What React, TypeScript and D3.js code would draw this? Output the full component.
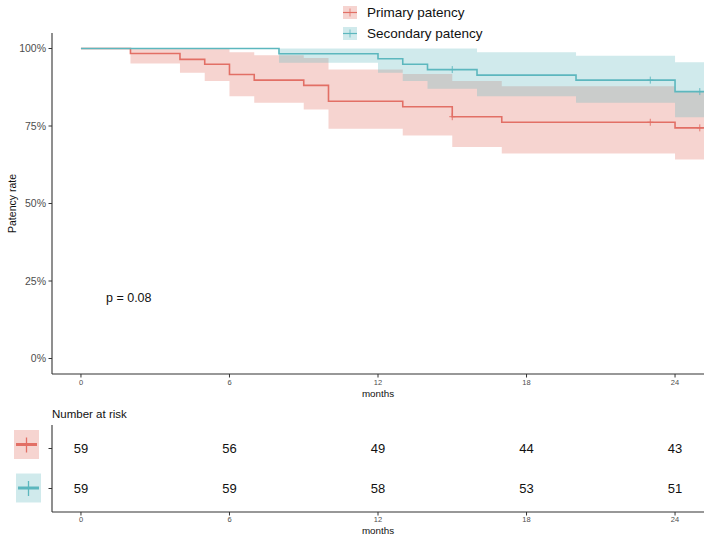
import React from 'react';
import * as d3 from 'd3';

// ---------- data ----------
const strataNames = ['Primary patency', 'Secondary patency'];
const strataColors = ['#E26F65', '#5CB7BE'];
const strataFill = ['#E26F65', '#62B9C0'];

const primaryTimes = [0, 2, 4, 5, 6, 7, 9, 10, 13, 15, 17, 24];
const primarySurv = [1, 0.984, 0.965, 0.949, 0.916, 0.898, 0.881, 0.83, 0.812, 0.78, 0.762, 0.744];
const primaryLower = [1, 0.952, 0.922, 0.895, 0.846, 0.825, 0.803, 0.741, 0.719, 0.682, 0.661, 0.642];
const primaryUpper = [1, 1, 1, 1, 0.988, 0.978, 0.969, 0.932, 0.918, 0.895, 0.878, 0.861];
const primaryCensor = [15, 23, 25];

const secondaryTimes = [0, 8, 12, 13, 14, 16, 20, 24];
const secondarySurv = [1, 0.983, 0.967, 0.949, 0.932, 0.914, 0.898, 0.861];
const secondaryLower = [1, 0.954, 0.922, 0.895, 0.87, 0.846, 0.825, 0.778];
const secondaryUpper = [1, 1, 1, 1, 1, 0.988, 0.977, 0.956];
const secondaryCensor = [15, 23, 25];

const followUpEnd = 25.17;

const riskTimes = [0, 6, 12, 18, 24];
const primaryRisk = [59, 56, 49, 44, 43];
const secondaryRisk = [59, 59, 58, 53, 51];

const xTicks = [0, 6, 12, 18, 24];
const yTicks = [0, 0.25, 0.5, 0.75, 1];
const yTickLabels = ['0%', '25%', '50%', '75%', '100%'];
const pValueText = 'p = 0.08';

// ---------- layout ----------
const W = 709;
const H = 538;
const F = "'Liberation Sans', Arial, Helvetica, sans-serif";
const axisCol = '#333333';
const tickTextCol = '#4D4D4D';

type Curve = {
  times: number[];
  surv: number[];
  lower: number[];
  upper: number[];
  censor: number[];
};

const curves: Curve[] = [
  { times: primaryTimes, surv: primarySurv, lower: primaryLower, upper: primaryUpper, censor: primaryCensor },
  { times: secondaryTimes, surv: secondarySurv, lower: secondaryLower, upper: secondaryUpper, censor: secondaryCensor },
];

function withEnd(c: Curve) {
  const pts = c.times.map((t, i) => ({ t, s: c.surv[i], lo: c.lower[i], hi: c.upper[i] }));
  const last = pts[pts.length - 1];
  pts.push({ t: followUpEnd, s: last.s, lo: last.lo, hi: last.hi });
  return pts;
}

function survAt(c: Curve, t: number) {
  let v = 1;
  c.times.forEach((tt, i) => {
    if (tt <= t) v = c.surv[i];
  });
  return v;
}

export default function App() {
  const x = d3.scaleLinear().domain([-1.17, 25.17]).range([52, 704]);
  const y = d3.scaleLinear().domain([-0.05, 1.05]).range([374, 33]);
  const yRisk = d3.scalePoint<string>().domain(strataNames).range([448.5, 488.5]);

  const area = d3
    .area<{ t: number; s: number; lo: number; hi: number }>()
    .x((d) => x(d.t))
    .y0((d) => y(d.lo))
    .y1((d) => y(d.hi))
    .curve(d3.curveStepAfter);
  const line = d3
    .line<{ t: number; s: number; lo: number; hi: number }>()
    .x((d) => x(d.t))
    .y((d) => y(d.s))
    .curve(d3.curveStepAfter);

  const data = curves.map(withEnd);
  const bandOrder = [0, 1];
  const lineOrder = [0, 1];

  const legendRows = [12.5, 33.5];

  return (
    <svg
      width={W}
      height={H}
      style={{ position: 'absolute', left: 0, top: 0, background: '#fff' }}
      fontFamily={F}
    >
      <rect x={0} y={0} width={W} height={H} fill="#fff" />

      {/* legend */}
      {strataNames.map((name, i) => (
        <g key={name}>
          <rect x={343} y={legendRows[i] - 6.5} width={14} height={13} fill={strataFill[i]} fillOpacity={0.3} />
          <line x1={343} x2={357} y1={legendRows[i]} y2={legendRows[i]} stroke={strataColors[i]} strokeWidth={1.2} />
          <line x1={350} x2={350} y1={legendRows[i] - 4} y2={legendRows[i] + 4} stroke={strataColors[i]} strokeWidth={0.8} />
          <text x={367} y={legendRows[i] + 4.6} fontSize={13.5} fill="#111">
            {name}
          </text>
        </g>
      ))}

      {/* bands */}
      {bandOrder.map((i) => (
        <path key={'b' + i} d={area(data[i]) || ''} fill={strataFill[i]} fillOpacity={0.3} stroke="none" />
      ))}

      {/* lines */}
      {lineOrder.map((i) => (
        <g key={'l' + i}>
          <path d={line(data[i]) || ''} fill="none" stroke={strataColors[i]} strokeWidth={1.6} />
          {curves[i].censor.map((t) => {
            const cx = x(t);
            const cy = y(survAt(curves[i], t));
            return (
              <g key={t}>
                <line x1={cx} x2={cx} y1={cy - 3.5} y2={cy + 3.5} stroke={strataColors[i]} strokeWidth={0.9} />
                <line x1={cx - 3} x2={cx + 3} y1={cy} y2={cy} stroke={strataColors[i]} strokeWidth={0.9} />
              </g>
            );
          })}
        </g>
      ))}

      {/* main axes */}
      <line x1={52} x2={52} y1={33} y2={374} stroke={axisCol} strokeWidth={1.1} />
      <line x1={52} x2={704} y1={374} y2={374} stroke={axisCol} strokeWidth={1.1} />
      {yTicks.map((v, i) => (
        <g key={'yt' + i}>
          <line x1={48.5} x2={52} y1={y(v)} y2={y(v)} stroke={axisCol} strokeWidth={1} />
          <text x={46} y={y(v) + 3.8} fontSize={10.5} textAnchor="end" fill={tickTextCol}>
            {yTickLabels[i]}
          </text>
        </g>
      ))}
      {xTicks.map((v) => (
        <g key={'xt' + v}>
          <line x1={x(v)} x2={x(v)} y1={374} y2={377.5} stroke={axisCol} strokeWidth={1} />
          <text x={x(v)} y={385.3} fontSize={7.5} textAnchor="middle" fill={tickTextCol}>
            {v}
          </text>
        </g>
      ))}
      <text x={378} y={397} fontSize={9.8} textAnchor="middle" fill="#111">
        months
      </text>
      <text
        transform={`translate(15.5, ${(33 + 374) / 2}) rotate(-90)`}
        fontSize={10.5}
        textAnchor="middle"
        fill="#111"
      >
        Patency rate
      </text>
      <text x={106} y={301.5} fontSize={12.5} fill="#111">
        {pValueText}
      </text>

      {/* risk table */}
      <text x={52} y={418} fontSize={11.5} fill="#111">
        Number at risk
      </text>
      <line x1={52} x2={52} y1={425} y2={512} stroke={axisCol} strokeWidth={1.1} />
      <line x1={52} x2={704} y1={512} y2={512} stroke={axisCol} strokeWidth={1.1} />
      {strataNames.map((name, i) => {
        const ry = yRisk(name) as number;
        const risk = i === 0 ? primaryRisk : secondaryRisk;
        const kx = i === 0 ? 14 : 16;
        const ky = i === 0 ? 444.5 : 488;
        return (
          <g key={'r' + name}>
            <line x1={48.5} x2={52} y1={ry} y2={ry} stroke={axisCol} strokeWidth={1} />
            <rect x={kx} y={ky - 14.5} width={25} height={29} fill={strataFill[i]} fillOpacity={0.3} />
            <line x1={kx + 2} x2={kx + 23} y1={ky} y2={ky} stroke={strataColors[i]} strokeWidth={3} />
            <line x1={kx + 12.5} x2={kx + 12.5} y1={ky - 7} y2={ky + 8} stroke={strataColors[i]} strokeWidth={1.3} />
            {riskTimes.map((t, j) => (
              <text key={t} x={x(t)} y={ry + 4.6} fontSize={13} textAnchor="middle" fill="#111">
                {risk[j]}
              </text>
            ))}
          </g>
        );
      })}
      {xTicks.map((v) => (
        <g key={'rxt' + v}>
          <line x1={x(v)} x2={x(v)} y1={512} y2={515.5} stroke={axisCol} strokeWidth={1} />
          <text x={x(v)} y={522} fontSize={7.5} textAnchor="middle" fill={tickTextCol}>
            {v}
          </text>
        </g>
      ))}
      <text x={378} y={534} fontSize={9.8} textAnchor="middle" fill="#111">
        months
      </text>
    </svg>
  );
}
